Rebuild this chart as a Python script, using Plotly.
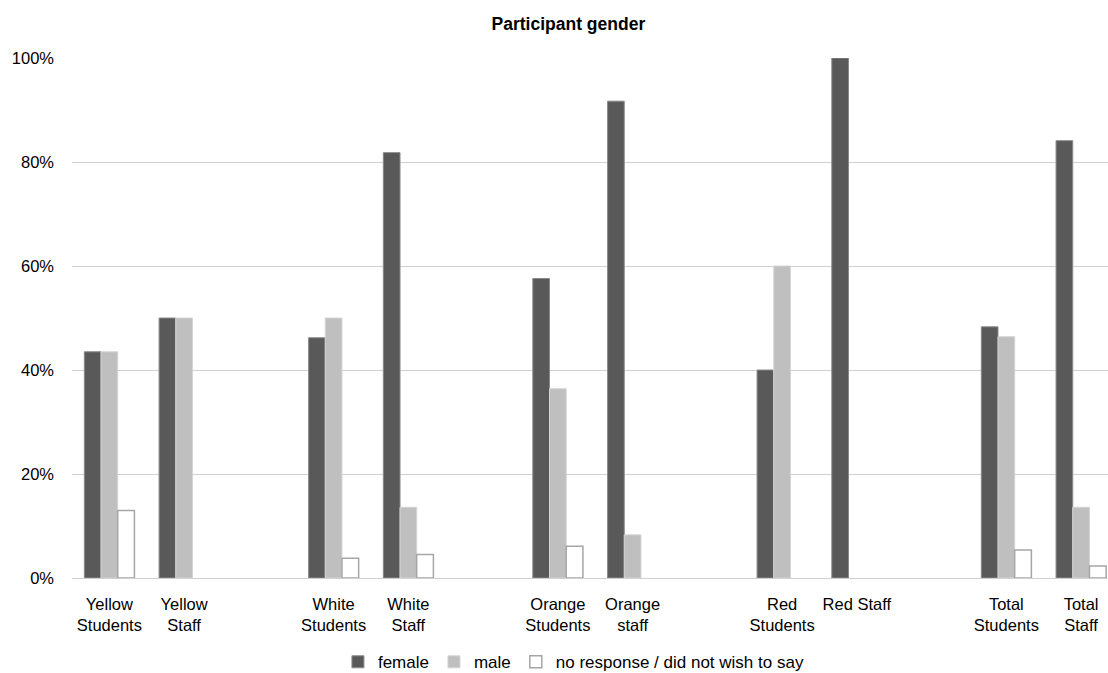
import plotly.graph_objects as go

# Share of participants by gender, per school group and role (percent)
categories = [
    "Yellow<br>Students", "Yellow<br>Staff", " ",
    "White<br>Students", "White<br>Staff", "  ",
    "Orange<br>Students", "Orange<br>staff", "   ",
    "Red<br>Students", "Red Staff", "    ",
    "Total<br>Students", "Total<br>Staff",
]
female = [43.5, 50.0, None, 46.2, 81.8, None, 57.6, 91.7, None, 40.0, 100.0, None, 48.3, 84.1]
male = [43.5, 50.0, None, 50.0, 13.6, None, 36.4, 8.3, None, 60.0, None, None, 46.4, 13.6]
no_response = [13.0, None, None, 3.8, 4.5, None, 6.1, None, None, None, None, None, 5.4, 2.3]

y_ticks = [0, 20, 40, 60, 80, 100]
y_tick_labels = ["0%", "20%", "40%", "60%", "80%", "100%"]

FONT = "Liberation Sans, Arial, sans-serif"

fig = go.Figure()
fig.add_trace(go.Bar(
    x=categories, y=female, name="female",
    marker=dict(color="#595959", line=dict(color="#8a8a8a", width=1)),
))
fig.add_trace(go.Bar(
    x=categories, y=male, name="male",
    marker=dict(color="#bfbfbf", line=dict(color="#d4d4d4", width=1)),
))
fig.add_trace(go.Bar(
    x=categories, y=no_response, name="no response / did not wish to say",
    marker=dict(color="#ffffff", line=dict(color="#a6a6a6", width=1.5)),
))

fig.update_layout(
    width=1108, height=673,
    margin=dict(l=72, r=0, t=58, b=95, autoexpand=False),
    paper_bgcolor="white", plot_bgcolor="white",
    barmode="group", bargap=0.33, bargroupgap=0,
    font=dict(family=FONT, size=16, color="#000000"),
    title=dict(
        text="<b>Participant gender</b>",
        x=0.513, xanchor="center", y=0.964, yanchor="middle",
        font=dict(family=FONT, size=17.5, color="#000000"),
    ),
    legend=dict(
        orientation="h", x=0.484, xanchor="center",
        yref="container", y=0.016, yanchor="middle",
        font=dict(family=FONT, size=17, color="#000000"),
        itemwidth=30, traceorder="normal",
    ),
    showlegend=True,
)
fig.update_xaxes(
    type="category", categoryorder="array", categoryarray=categories,
    range=[-0.5, 13.36], showgrid=False, ticks="", showline=False,
    tickangle=0, ticklabelstandoff=14, automargin=False,
    tickfont=dict(family=FONT, size=16.5, color="#000000"),
)
fig.update_yaxes(
    range=[0, 100], tickvals=y_ticks, ticktext=y_tick_labels,
    showgrid=True, gridcolor="#d0d0d0", gridwidth=1.3,
    zeroline=True, zerolinecolor="#d0d0d0", zerolinewidth=1.3,
    ticks="", showline=False, ticklabelstandoff=17, automargin=False,
    tickfont=dict(family=FONT, size=16.5, color="#000000"),
)

fig.write_html("out.html")
